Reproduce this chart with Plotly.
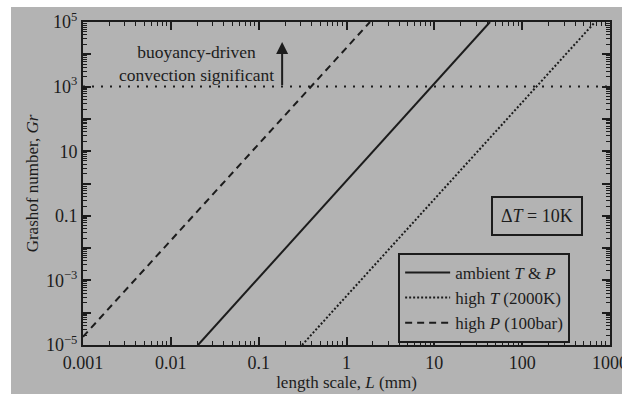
import math
import plotly.graph_objects as go

# ---- data ----
L_ambient = [0.0204, 43.0]
Gr_ambient = [1e-5, 1e5]
L_highT = [0.312, 676.0]
Gr_highT = [1e-5, 1e5]
L_highP = [0.001, 1.85]
Gr_highP = [1.8e-5, 1e5]
L_threshold = [0.001, 1000.0]
Gr_threshold = [1e3, 1e3]
arrow_L = 0.185
arrow_Gr = [1e3, 2.4e4]

x_tickvals = [0.001, 0.01, 0.1, 1, 10, 100, 1000]
x_ticktext = ["0.001", "0.01", "0.1", "1", "10", "100", "1000"]
y_tickvals = [1e-5, 1e-4, 1e-3, 1e-2, 1e-1, 1, 10, 1e2, 1e3, 1e4, 1e5]
y_ticktext = ["10<sup>−5</sup>", "", "10<sup>−3</sup>", "", "0.1", "", "10", "", "10<sup>3</sup>", "", "10<sup>5</sup>"]

GRAY = "#b3b3b3"
INK = "#1c1c1c"
FONT = "Liberation Serif"

fig = go.Figure()
fig.add_trace(go.Scatter(x=L_threshold, y=Gr_threshold, mode="lines", showlegend=False,
                         line=dict(color=INK, width=2, dash="2px,7px"), hoverinfo="skip"))
fig.add_trace(go.Scatter(x=L_ambient, y=Gr_ambient, mode="lines", name="ambient <i>T</i> & <i>P</i>",
                         line=dict(color=INK, width=2)))
fig.add_trace(go.Scatter(x=L_highT, y=Gr_highT, mode="lines", name="high <i>T</i> (2000K)",
                         line=dict(color=INK, width=2, dash="2px,2px")))
fig.add_trace(go.Scatter(x=L_highP, y=Gr_highP, mode="lines", name="high <i>P</i> (100bar)",
                         line=dict(color=INK, width=2, dash="7px,5px")))

axis_common = dict(
    type="log", showgrid=False, zeroline=False, showline=True, linecolor=INK, linewidth=2,
    mirror="allticks", ticks="inside", ticklen=8, tickwidth=1.5, tickcolor=INK,
    minor=dict(ticks="inside", ticklen=4, tickwidth=1, tickcolor=INK, dtick="D1", showgrid=False),
    tickfont=dict(family=FONT, size=18, color=INK), ticklabeloverflow="allow", automargin=False,
)

fig.update_xaxes(**axis_common, range=[-3, 3], tickmode="array", tickvals=x_tickvals, ticktext=x_ticktext,
                 title=dict(text="length scale, <i>L</i> (mm)", font=dict(family=FONT, size=17, color=INK), standoff=2))
fig.update_yaxes(**axis_common, range=[-5, 5], tickmode="array", tickvals=y_tickvals, ticktext=y_ticktext,
                 title=dict(text="Grashof number, <i>Gr</i>", font=dict(family=FONT, size=17, color=INK), standoff=3))

# buoyancy annotation
fig.add_annotation(x=0.216, y=0.873, xref="paper", yref="paper", xanchor="center", yanchor="middle",
                   showarrow=False, text="buoyancy-driven<br>convection significant",
                   font=dict(family=FONT, size=17.5, color=INK), align="center")
fig.add_annotation(x=math.log10(arrow_L), y=math.log10(arrow_Gr[1]),
                   ax=math.log10(arrow_L), ay=math.log10(arrow_Gr[0]),
                   xref="x", yref="y", axref="x", ayref="y", text="", showarrow=True,
                   arrowhead=2, arrowsize=1.2, arrowwidth=2, arrowcolor=INK)

# Delta T box
fig.add_annotation(x=0.861, y=0.40, xref="paper", yref="paper", xanchor="center", yanchor="middle",
                   showarrow=False, text="Δ<i>T</i> = 10K", font=dict(family=FONT, size=18, color=INK),
                   bordercolor=INK, borderwidth=2, borderpad=8, bgcolor=GRAY)

# white margins of the original scan
fig.add_shape(type="rect", xref="paper", yref="paper", x0=-83/527, x1=-72/527, y0=-0.2, y1=1.1,
              fillcolor="white", line_width=0, layer="below")
fig.add_shape(type="rect", xref="paper", yref="paper", x0=-0.2, x1=1.1, y0=1 + 15/323, y1=1 + 22/323,
              fillcolor="white", line_width=0, layer="below")

fig.update_layout(
    width=622, height=394,
    margin=dict(l=83, r=12, t=22, b=49),
    paper_bgcolor=GRAY, plot_bgcolor=GRAY,
    font=dict(family=FONT, size=16, color=INK),
    legend=dict(x=0.598, y=0.285, xanchor="left", yanchor="top", bgcolor=GRAY,
                bordercolor=INK, borderwidth=2, font=dict(family=FONT, size=17, color=INK),
                tracegroupgap=0, itemwidth=45),
)

fig.write_html("out.html", config={"displayModeBar": False},
               post_script="document.body.style.margin='0';document.body.style.overflow='hidden';")
